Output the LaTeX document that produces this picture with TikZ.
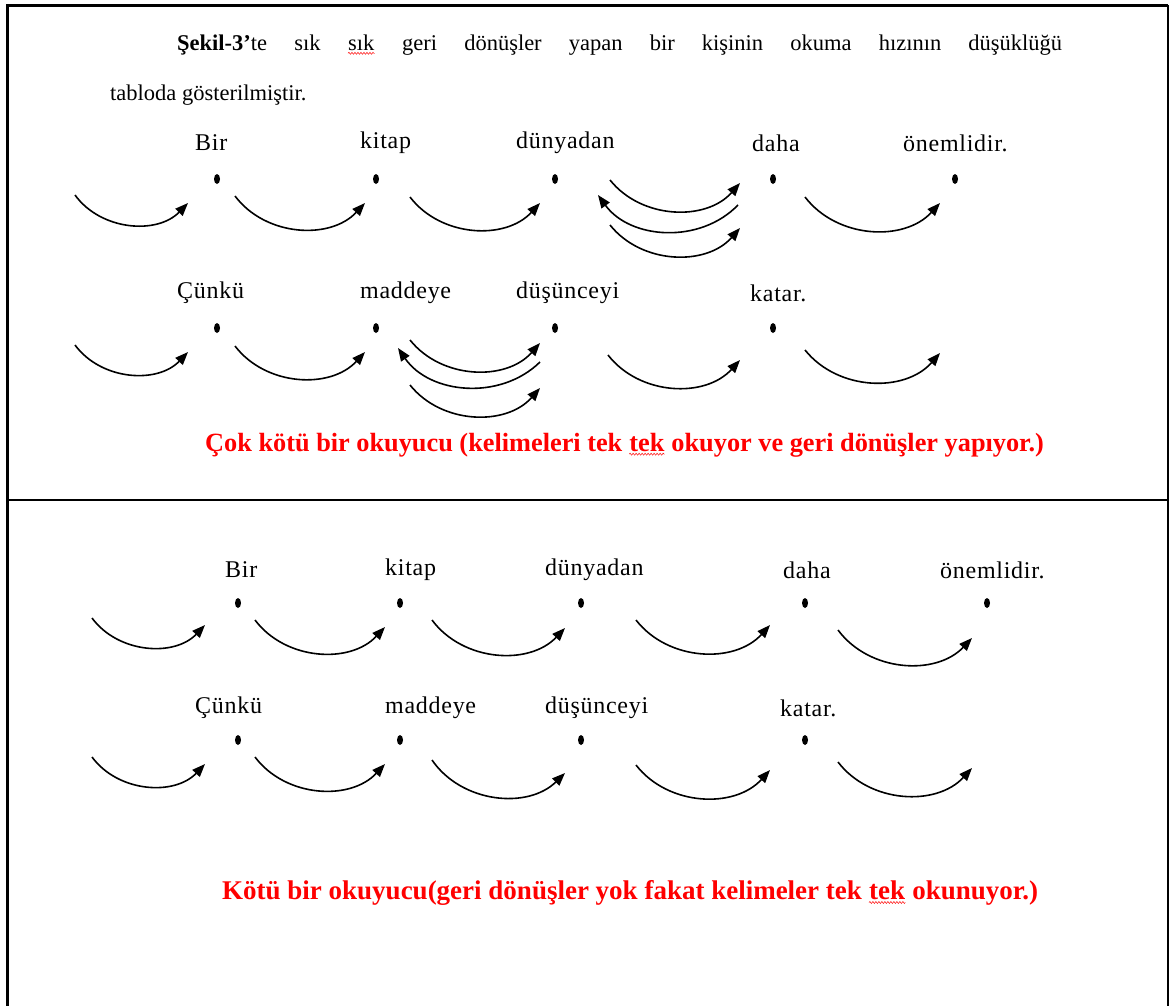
\documentclass[tikz,border=0pt]{standalone}
\usepackage{fontspec}
\setmainfont{Liberation Serif}
\newfontfamily\wordfont[LetterSpace=3]{Liberation Serif}
\usetikzlibrary{arrows.meta, shapes.geometric, decorations.pathmorphing}

% red spell-check wave under a word
\newcommand{\redwave}[1]{\tikz[baseline=(wv.base)]{\node[inner sep=0pt] (wv) {#1};
  \draw[red, line width=0.5pt, decorate, decoration={snake, amplitude=1pt, segment length=3pt}]
    ([yshift=-2.5pt]wv.south west) -- ([yshift=-2.5pt]wv.south east);}}

\begin{document}
\begin{tikzpicture}[x=1pt, y=-1pt, font=\fontsize{22.5}{26}\selectfont,
  >={Triangle[length=13pt, width=10pt]},
  arr/.style={->, line width=1.6pt, bend right=50},
  rarr/.style={<-, line width=1.6pt, bend right=50},
  word/.style={anchor=west, inner sep=0pt},
  label/.style={word, font=\fontsize{24}{28}\selectfont\wordfont},
  dot/.style={ellipse, fill=black, inner sep=0pt, minimum width=6pt, minimum height=10pt},
  verdict/.style={anchor=west, inner sep=0pt, text=red}]

  \useasboundingbox (0,0) rectangle (1170,1005);

  % Frame and divider
  \draw[line width=3pt] (7,1010) -- (7,5.5) -- (1168,5.5);
  \draw[line width=1.5pt] (1168,5) -- (1168,1010);
  \draw[line width=2.5pt] (7,500) -- (1168,500);

  % ---- Intro text ----
  \node[word] (intro1) at (177,45)
    {\makebox[885pt][s]{\textbf{Şekil-3’}te sık \redwave{sık} geri dönüşler yapan bir kişinin okuma hızının düşüklüğü}};
  \node[word] (intro2) at (110,95) {tabloda gösterilmiştir.};

  % ---- Upper panel: words ----
  \foreach \n/\x/\y/\w in {
      ua1/195/143/Bir, ua2/360/143/kitap, ua3/516/143/dünyadan,
      ua4/752/143/daha, ua5/903/143/önemlidir.,
      ub1/177/293/Çünkü, ub2/360/293/maddeye, ub3/516/293/düşünceyi,
      ub4/750/293/katar.}
    \node[label] (\n) at (\x,\y) {\w};

  \foreach \n/\x/\y in {
      pa1/217/179, pa2/376/179, pa3/555/179, pa4/773/179, pa5/955/179,
      pb1/217/328, pb2/376/328, pb3/555/328, pb4/773/328}
    \node[dot] (\n) at (\x,\y) {};

  % upper panel: saccades
  \foreach \i/\xa/\ya/\xb/\yb in {
      1/75/195/188/203, 2/235/196/365/203, 3/410/197/540/203,
      4/610/180/740/183, 5/610/225/740/228, 6/805/197/940/203,
      7/75/345/188/352, 8/235/346/365/352, 9/410/340/540/343,
      10/410/385/540/388, 11/608/355/740/360, 12/805/350/940/353}
  {
    \coordinate (us\i) at (\xa,\ya);
    \coordinate (ue\i) at (\xb,\yb);
    \draw[arr] (us\i) to (ue\i);
  }

  % upper panel: regressions
  \coordinate (rs1) at (598,195);
  \coordinate (re1) at (738,205);
  \draw[rarr] (rs1) to (re1);
  \coordinate (rs2) at (398,348);
  \coordinate (re2) at (540,362);
  \draw[rarr] (rs2) to (re2);

  \node[verdict, font=\fontsize{26.3}{30}\selectfont\bfseries] (verdict1) at (205,445)
    {Çok kötü bir okuyucu (kelimeleri tek \redwave{tek} okuyor ve geri dönüşler yapıyor.)};

  % ---- Lower panel: words ----
  \foreach \n/\x/\y/\w in {
      la1/225/570/Bir, la2/385/570/kitap, la3/545/570/dünyadan,
      la4/783/570/daha, la5/940/570/önemlidir.,
      lb1/195/708/Çünkü, lb2/385/708/maddeye, lb3/545/708/düşünceyi,
      lb4/780/708/katar.}
    \node[label] (\n) at (\x,\y) {\w};

  \foreach \n/\x/\y in {
      qa1/238/603, qa2/400/603, qa3/581/603, qa4/805/603, qa5/987/603,
      qb1/238/740, qb2/400/740, qb3/581/740, qb4/805/740}
    \node[dot] (\n) at (\x,\y) {};

  % lower panel: saccades only
  \foreach \i/\xa/\ya/\xb/\yb in {
      1/92/618/205/625, 2/255/620/385/627, 3/432/620/565/628,
      4/636/620/770/625, 5/838/630/972/638,
      6/92/757/205/764, 7/255/757/385/764, 8/432/760/565/773,
      9/636/765/770/770, 10/838/762/972/768}
  {
    \coordinate (ls\i) at (\xa,\ya);
    \coordinate (le\i) at (\xb,\yb);
    \draw[arr] (ls\i) to (le\i);
  }

  \node[verdict, font=\fontsize{27}{31}\selectfont\bfseries] (verdict2) at (222,893)
    {Kötü bir okuyucu(geri dönüşler yok fakat kelimeler tek \redwave{tek} okunuyor.)};

\end{tikzpicture}
\end{document}
